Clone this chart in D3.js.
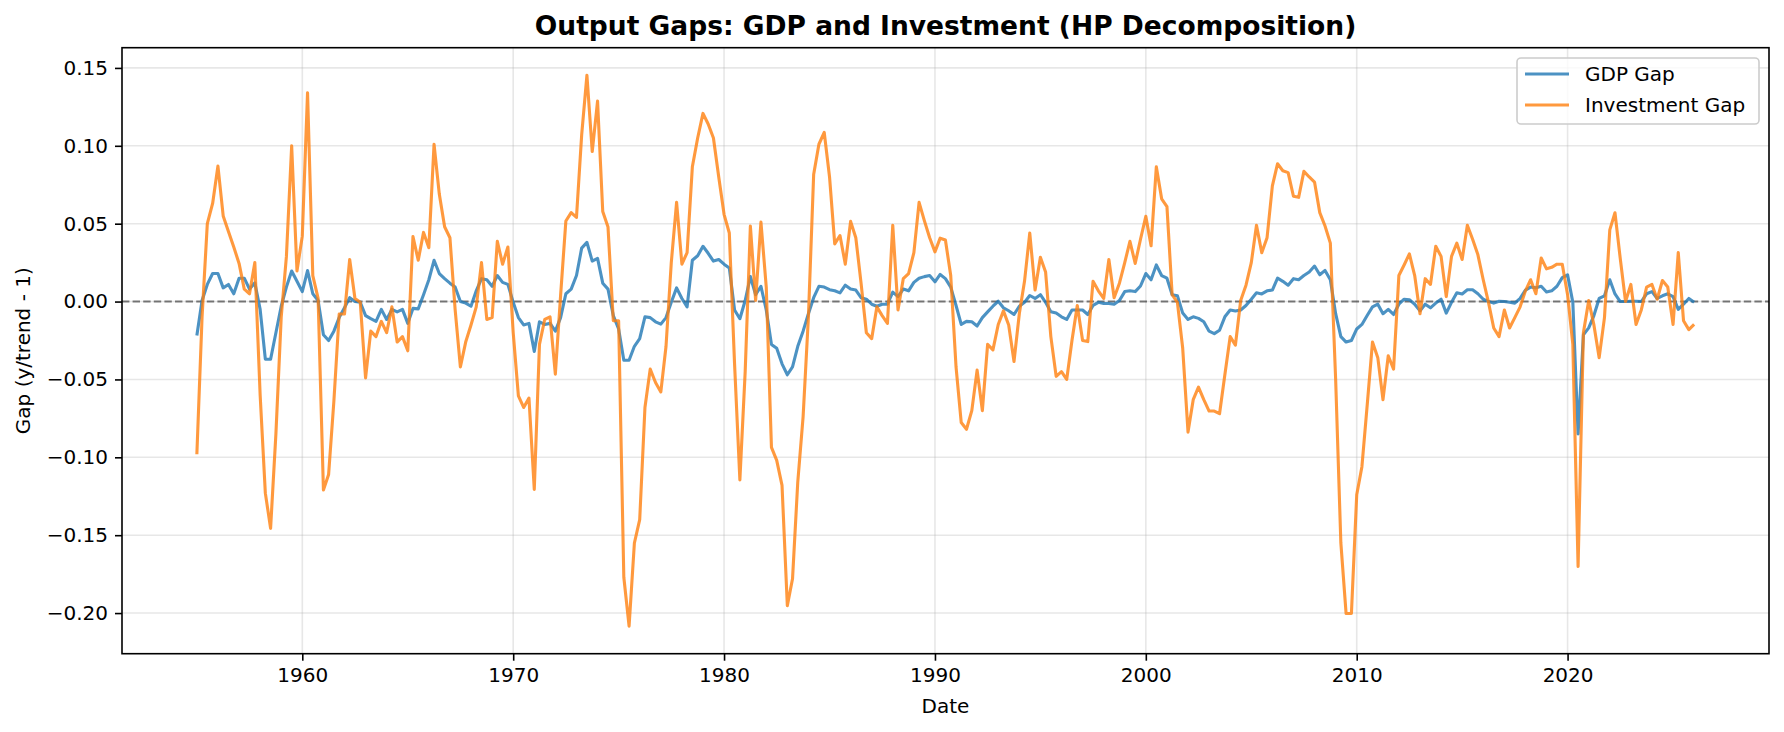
<!DOCTYPE html>
<html>
<head>
<meta charset="utf-8">
<script src="https://cdn.jsdelivr.net/npm/d3@7"></script>
<style>
  html, body { margin: 0; padding: 0; background: #ffffff; }
  svg { display: block; font-family: "DejaVu Sans", sans-serif; }
</style>
</head>
<body>
<svg id="chart" width="1784" height="732"></svg>
<script>
// ---------------- data ----------------
const firstQuarter = "1955-01-01";   // quarterly observations, 1955Q1 .. 2026Q1
const seriesNames = ["GDP Gap", "Investment Gap"];
const xTickYears = [1960, 1970, 1980, 1990, 2000, 2010, 2020];
const yTickValues = [-0.20, -0.15, -0.10, -0.05, 0.00, 0.05, 0.10, 0.15];

const gdpGap = [
 -0.0218, 0.0007, 0.011, 0.018, 0.018, 0.0088, 0.011, 0.005, 0.015, 0.015,
 0.008, 0.012, -0.005, -0.037, -0.037, -0.020, -0.003, 0.0093, 0.0196, 0.013,
 0.0064, 0.0199, 0.005, 0.0007, -0.0213, -0.025, -0.019, -0.0103, -0.004, 0.0025,
 0.0, -0.0005, -0.009, -0.011, -0.0127, -0.005, -0.0115, -0.005, -0.0066, -0.005,
 -0.014, -0.0044, -0.0047, 0.0044, 0.014, 0.0265, 0.018, 0.0147, 0.0118, 0.0093,
 0.0, -0.001, -0.003, 0.0069, 0.0147, 0.014, 0.0098, 0.0167, 0.0123, 0.011,
 -0.0005, -0.0103, -0.015, -0.014, -0.032, -0.013, -0.0147, -0.014, -0.019, -0.0103,
 0.005, 0.008, 0.0167, 0.0343, 0.038, 0.026, 0.0277, 0.0118, 0.008, -0.009,
 -0.0176, -0.0377, -0.0377, -0.0287, -0.0238, -0.0098, -0.0103, -0.013, -0.0145, -0.0103,
 -0.0005, 0.0088, 0.002, -0.0034, 0.0265, 0.0294, 0.0355, 0.031, 0.026, 0.027,
 0.024, 0.0216, -0.0054, -0.011, 0.0007, 0.016, 0.0044, 0.0098, -0.0054, -0.0275,
 -0.030, -0.040, -0.047, -0.042, -0.0287, -0.019, -0.0078, 0.0025, 0.0098, 0.0093,
 0.0076, 0.0069, 0.0056, 0.0105, 0.008, 0.0074, 0.0025, 0.0015, -0.0017, -0.003,
 -0.0017, -0.0017, 0.0061, 0.0032, 0.008, 0.0069, 0.0123, 0.015, 0.016, 0.0167,
 0.0127, 0.0174, 0.0147, 0.0093, -0.0025, -0.0147, -0.0127, -0.013, -0.0157, -0.0103,
 -0.0066, -0.003, 0.0002, -0.004, -0.0059, -0.0083, -0.003, -0.0005, 0.0039, 0.002,
 0.0044, -0.0005, -0.0066, -0.0074, -0.0098, -0.0115, -0.0054, -0.0054, -0.0054, -0.0083,
 -0.0025, -0.0005, -0.0012, -0.0012, -0.0017, 0.0007, 0.0064, 0.0069, 0.0064, 0.010,
 0.018, 0.014, 0.0235, 0.0167, 0.015, 0.0044, 0.0037, -0.0074, -0.0115, -0.0098,
 -0.0108, -0.013, -0.019, -0.0206, -0.0184, -0.0098, -0.0054, -0.006, -0.0054, -0.0025,
 0.0015, 0.0056, 0.0049, 0.0069, 0.0074, 0.015, 0.013, 0.0105, 0.0147, 0.014,
 0.0167, 0.019, 0.0228, 0.0172, 0.020, 0.014, -0.0078, -0.0225, -0.026, -0.025,
 -0.0176, -0.0147, -0.009, -0.0034, -0.0017, -0.0078, -0.005, -0.0083, -0.0017, 0.0015,
 0.0012, -0.0017, -0.006, -0.0017, -0.004, -0.001, 0.0015, -0.0074, -0.0005, 0.0056,
 0.0049, 0.0076, 0.0076, 0.005, 0.0015, 0.0, -0.001, 0.0002, 0.0, -0.0005,
 -0.001, 0.002, 0.0074, 0.0093, 0.0088, 0.0098, 0.0061, 0.0069, 0.0098, 0.0154,
 0.0172, -0.0005, -0.085, -0.0213, -0.0169, -0.009, 0.002, 0.0037, 0.014, 0.0049,
 0.0, 0.0, 0.0002, 0.0002, 0.0, 0.005, 0.0064, 0.002, 0.0037, 0.005,
 0.0032, -0.005, -0.0017, 0.002, -0.0005
];

const investmentGap = [
 -0.098, -0.010, 0.050, 0.063, 0.087, 0.055, 0.045, 0.035, 0.0245, 0.008,
 0.005, 0.025, -0.060, -0.123, -0.1456, -0.085, -0.010, 0.029, 0.100, 0.0196,
 0.042, 0.134, 0.0167, 0.002, -0.121, -0.111, -0.064, -0.008, -0.008, 0.027,
 0.002, -0.0005, -0.049, -0.019, -0.0225, -0.0127, -0.020, -0.0034, -0.026, -0.0225,
 -0.0316, 0.0417, 0.0265, 0.0444, 0.0346, 0.101, 0.069, 0.048, 0.041, -0.005,
 -0.042, -0.026, -0.015, -0.0034, 0.025, -0.0115, -0.0103, 0.0387, 0.024, 0.035,
 -0.020, -0.0605, -0.068, -0.062, -0.1206, -0.0275, -0.0115, -0.0098, -0.0466, 0.004,
 0.0517, 0.0571, 0.054, 0.107, 0.1453, 0.0963, 0.1287, 0.0578, 0.0478, -0.0123,
 -0.0123, -0.177, -0.2084, -0.155, -0.140, -0.068, -0.0434, -0.052, -0.058, -0.0287,
 0.025, 0.0637, 0.024, 0.0314, 0.0865, 0.105, 0.1208, 0.114, 0.105, 0.080,
 0.056, 0.044, -0.040, -0.1145, -0.045, 0.0485, 0.0007, 0.051, 0.0093, -0.0936,
 -0.102, -0.118, -0.1953, -0.178, -0.1157, -0.074, -0.010, 0.0816, 0.101, 0.1086,
 0.080, 0.037, 0.0424, 0.024, 0.0515, 0.041, 0.0118, -0.020, -0.0238, -0.0034,
 -0.009, -0.014, 0.049, -0.0054, 0.0147, 0.018, 0.0314, 0.0637, 0.052, 0.041,
 0.0319, 0.0407, 0.0395, 0.0167, -0.042, -0.0777, -0.082, -0.070, -0.044, -0.070,
 -0.0275, -0.031, -0.0147, -0.006, -0.015, -0.0385, -0.0078, 0.013, 0.044, 0.0074,
 0.0284, 0.019, -0.0225, -0.048, -0.045, -0.050, -0.025, -0.0025, -0.025, -0.0257,
 0.013, 0.0069, 0.002, 0.027, 0.0025, 0.0118, 0.025, 0.0387, 0.0245, 0.040,
 0.0547, 0.0358, 0.0865, 0.066, 0.061, 0.0044, -0.0005, -0.030, -0.0838, -0.063,
 -0.055, -0.063, -0.0703, -0.0703, -0.072, -0.047, -0.0225, -0.028, 0.0007, 0.0105,
 0.025, 0.049, 0.0314, 0.041, 0.0743, 0.0885, 0.084, 0.0828, 0.0676, 0.0669,
 0.0836, 0.080, 0.0767, 0.0571, 0.0485, 0.0375, -0.050, -0.155, -0.2003, -0.2003,
 -0.124, -0.106, -0.0667, -0.026, -0.036, -0.063, -0.0348, -0.0434, 0.0167, 0.0235,
 0.0306, 0.0167, -0.0078, 0.0147, 0.011, 0.0355, 0.029, 0.0032, 0.029, 0.0375,
 0.027, 0.049, 0.040, 0.030, 0.014, -0.0005, -0.017, -0.0225, -0.0054, -0.017,
 -0.0103, -0.0034, 0.0069, 0.014, 0.005, 0.028, 0.021, 0.022, 0.024, 0.024,
 0.0044, -0.0275, -0.170, -0.020, 0.0007, -0.015, -0.036, -0.0103, 0.046, 0.057,
 0.0277, 0.0, 0.011, -0.0147, -0.0054, 0.0093, 0.011, 0.0015, 0.0135, 0.0093,
 -0.0147, 0.0314, -0.0123, -0.018, -0.0147
];

const colors = ["#1f77b4", "#ff7f0e"];

// ---------------- layout ----------------
const W = 1784, H = 732;
const margin = { left: 122, right: 15, top: 47.7, bottom: 78.3 };
const plotW = W - margin.left - margin.right;
const plotH = H - margin.top - margin.bottom;

const svg = d3.select("#chart");
svg.append("rect").attr("width", W).attr("height", H).attr("fill", "#ffffff");

// dates: one per quarter
const start = d3.timeParse("%Y-%m-%d")(firstQuarter);
const dates = gdpGap.map((_, i) => d3.timeMonth.offset(start, 3 * i));

const xMin = dates[0], xMax = dates[dates.length - 1];
const xPad = (xMax - xMin) * 0.05;
const x = d3.scaleTime()
  .domain([new Date(+xMin - xPad), new Date(+xMax + xPad)])
  .range([0, plotW]);

const allVals = gdpGap.concat(investmentGap);
const yLo = d3.min(allVals), yHi = d3.max(allVals);
const yPad = (yHi - yLo) * 0.05;
const y = d3.scaleLinear().domain([yLo - yPad, yHi + yPad]).range([plotH, 0]);

const g = svg.append("g").attr("transform", `translate(${margin.left},${margin.top})`);

// grid
const xTicks = xTickYears.map(yr => new Date(yr, 0, 1));
g.append("g").selectAll("line").data(xTicks).join("line")
  .attr("x1", d => x(d)).attr("x2", d => x(d))
  .attr("y1", 0).attr("y2", plotH)
  .attr("stroke", "#b0b0b0").attr("stroke-opacity", 0.3).attr("stroke-width", 1.6);
g.append("g").selectAll("line").data(yTickValues).join("line")
  .attr("x1", 0).attr("x2", plotW)
  .attr("y1", d => y(d)).attr("y2", d => y(d))
  .attr("stroke", "#b0b0b0").attr("stroke-opacity", 0.3).attr("stroke-width", 1.6);

// zero line
g.append("line")
  .attr("x1", 0).attr("x2", plotW)
  .attr("y1", y(0)).attr("y2", y(0))
  .attr("stroke", "#000").attr("stroke-opacity", 0.5)
  .attr("stroke-width", 2).attr("stroke-dasharray", "7.4,3.2");

// series lines
const series = [gdpGap, investmentGap];
const line = d3.line().x((d, i) => x(dates[i])).y(d => y(d));
series.forEach((vals, k) => {
  g.append("path")
    .datum(vals)
    .attr("d", line)
    .attr("fill", "none")
    .attr("stroke", colors[k])
    .attr("stroke-opacity", 0.8)
    .attr("stroke-width", 3.1)
    .attr("stroke-linejoin", "round");
});

// axes
const fontSize = 20;
const xAxis = d3.axisBottom(x).tickValues(xTicks).tickFormat(d3.timeFormat("%Y"))
  .tickSize(7).tickPadding(6);
const xg = g.append("g").attr("transform", `translate(0,${plotH})`).call(xAxis);
const yAxis = d3.axisLeft(y).tickValues(yTickValues).tickFormat(d3.format(".2f"))
  .tickSize(7).tickPadding(7);
const yg = g.append("g").call(yAxis);

[xg, yg].forEach(ax => {
  ax.select(".domain").remove();
  ax.selectAll(".tick line").attr("stroke", "#000").attr("stroke-width", 1.6);
  ax.selectAll(".tick text")
    .attr("fill", "#000")
    .style("font-family", "'DejaVu Sans', sans-serif")
    .style("font-size", fontSize + "px");
});
xg.selectAll(".tick text").attr("dy", "0.78em");

// spines
g.append("rect")
  .attr("x", 0).attr("y", 0).attr("width", plotW).attr("height", plotH)
  .attr("fill", "none").attr("stroke", "#000").attr("stroke-width", 1.6);

// labels
svg.append("text")
  .attr("x", margin.left + plotW / 2).attr("y", 712.5)
  .attr("text-anchor", "middle")
  .style("font-size", fontSize + "px").attr("fill", "#000")
  .text("Date");

svg.append("text")
  .attr("transform", `translate(30,${margin.top + plotH / 2}) rotate(-90)`)
  .attr("text-anchor", "middle")
  .style("font-size", fontSize + "px").attr("fill", "#000")
  .text("Gap (y/trend - 1)");

svg.append("text")
  .attr("x", margin.left + plotW / 2).attr("y", 35)
  .attr("text-anchor", "middle")
  .style("font-size", "26.5px").style("font-weight", "bold").attr("fill", "#000")
  .text("Output Gaps: GDP and Investment (HP Decomposition)");

// legend
const lg = svg.append("g");
lg.append("rect")
  .attr("x", 1517).attr("y", 58).attr("width", 242).attr("height", 66)
  .attr("rx", 4).attr("ry", 4)
  .attr("fill", "#ffffff").attr("fill-opacity", 0.8)
  .attr("stroke", "#cccccc").attr("stroke-width", 1.6);
seriesNames.forEach((name, k) => {
  const cy = 74 + k * 31;
  lg.append("line")
    .attr("x1", 1525).attr("x2", 1569).attr("y1", cy).attr("y2", cy)
    .attr("stroke", colors[k]).attr("stroke-opacity", 0.8).attr("stroke-width", 3.1);
  lg.append("text")
    .attr("x", 1585).attr("y", cy).attr("dy", "0.36em")
    .style("font-size", fontSize + "px").attr("fill", "#000")
    .text(name);
});
</script>
</body>
</html>
